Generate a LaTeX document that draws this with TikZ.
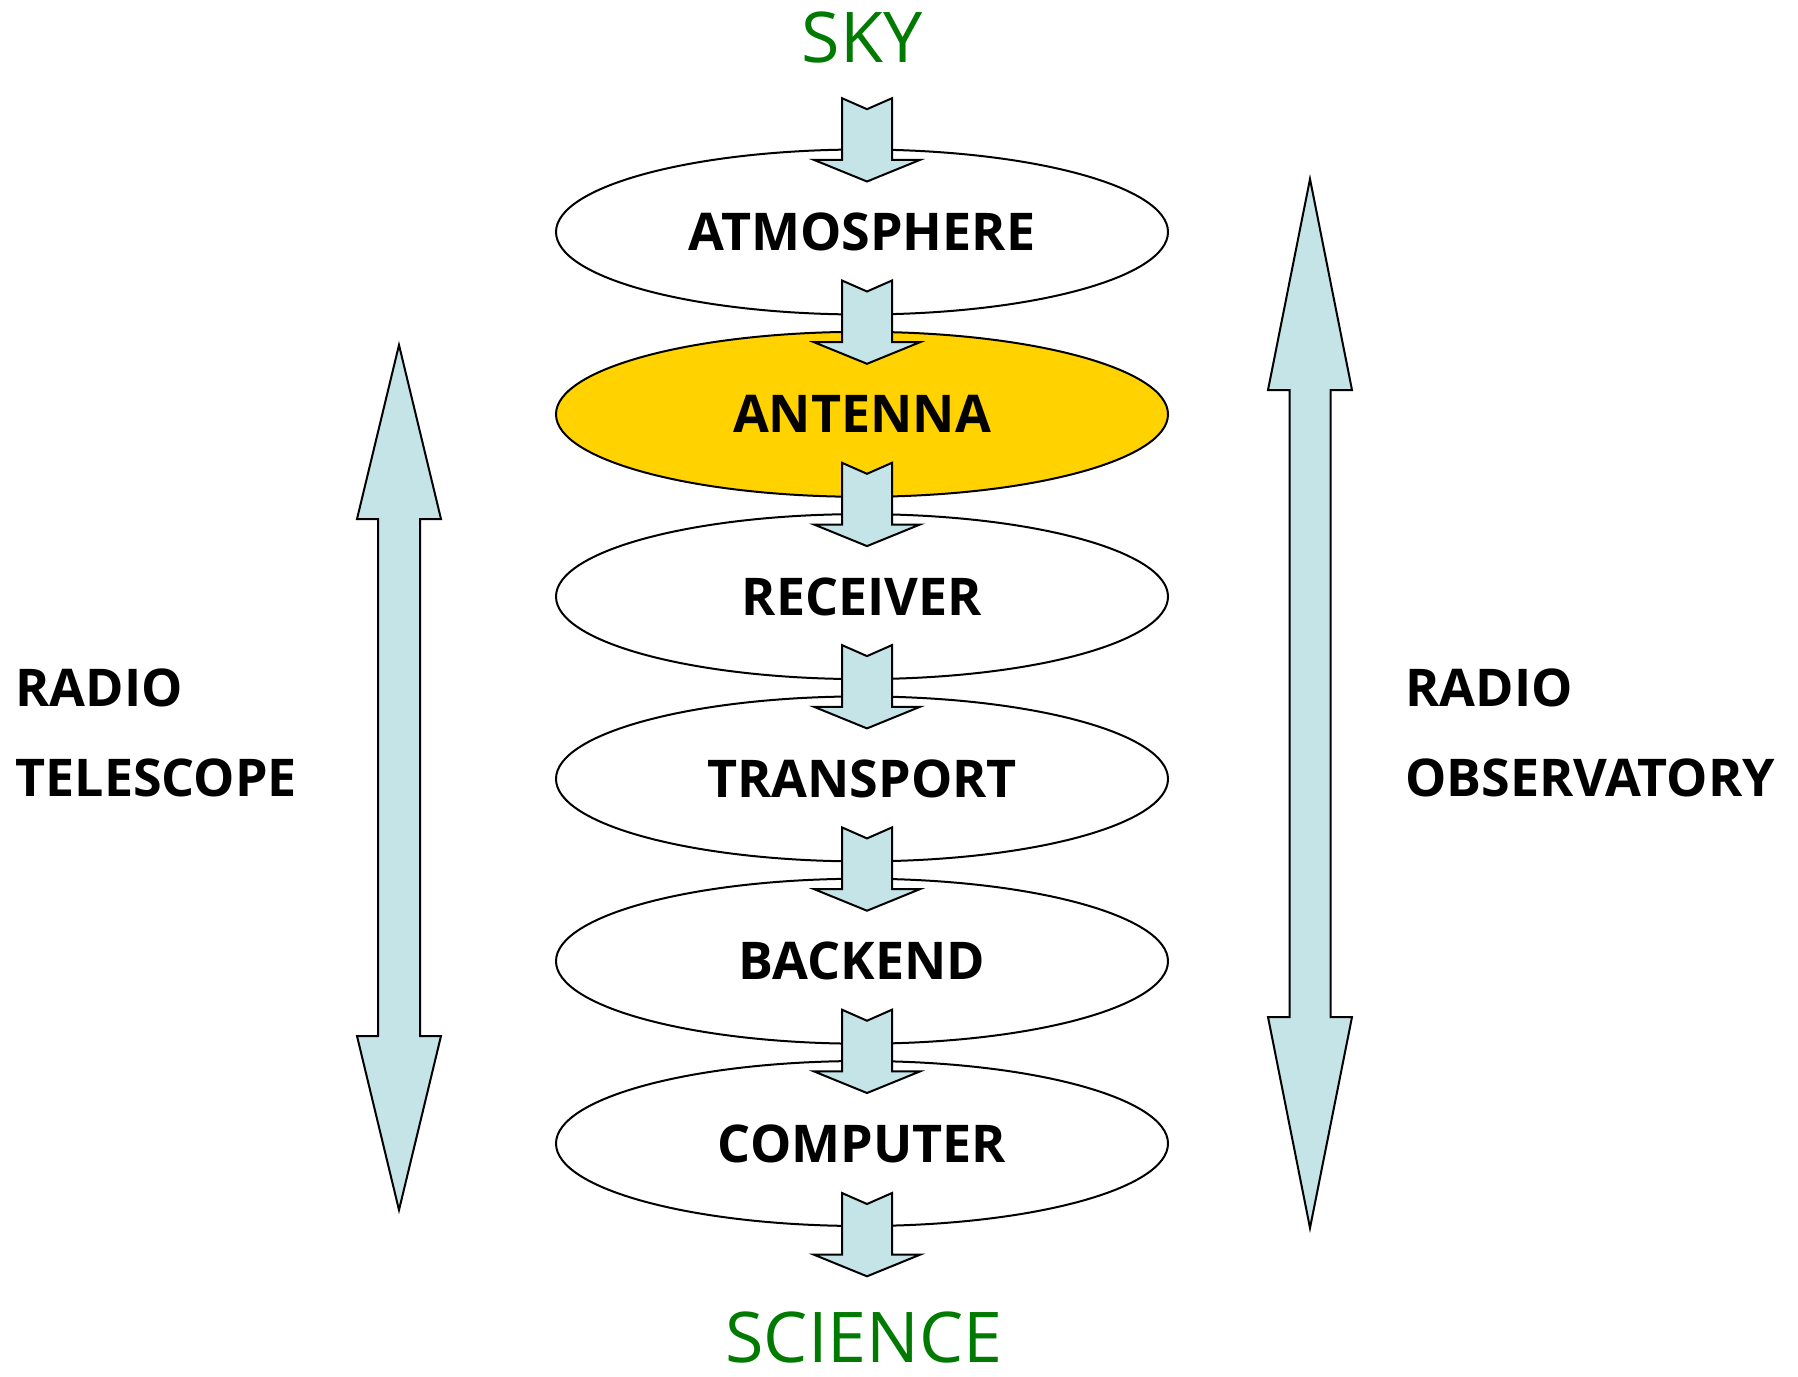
\documentclass[tikz,border=0pt]{standalone}
\usepackage{fontspec}
\setmainfont{Open Sans}
\usetikzlibrary{shapes.geometric}
\definecolor{flowcyan}{RGB}{196,228,232}
\definecolor{antgold}{RGB}{255,210,0}
\definecolor{endgreen}{RGB}{0,122,0}
\newcommand{\pFlowArrow}[1]{\draw[flow] ([shift={(5,33)}]#1) -- ++(53,-21.6) -- ++(-28,0) -- ++(0,-61.7) -- ++(-25,11) -- ++(-25,-11) -- ++(0,61.7) -- ++(-28,0) -- cycle;}
\newcommand{\pUpDown}[5]{\draw[flow] (#1,#2) -- (#1+42,#2+#4) -- (#1+#5,#2+#4) -- (#1+#5,#3-#4) -- (#1+42,#3-#4) -- (#1,#3) -- (#1-42,#3-#4) -- (#1-#5,#3-#4) -- (#1-#5,#2+#4) -- (#1-42,#2+#4) -- cycle;}

\begin{document}
\begin{tikzpicture}[x=0.5pt,y=-0.5pt,
  flow/.style={draw, fill=flowcyan, line width=1pt, line join=miter},
  stage/.style={ellipse, draw, fill=white, line width=1pt, minimum width=306pt, minimum height=82.5pt, inner sep=0pt, font={\bfseries\fontsize{26}{30}\selectfont}},
  side/.style={anchor=base west, inner sep=0pt, font={\bfseries\fontsize{26}{30}\selectfont}},
  ends/.style={anchor=base, inner sep=0pt, text=endgreen, font={\fontsize{35}{40}\selectfont}}]
\useasboundingbox (0,0) rectangle (1798,1376);
\pUpDown{399}{345}{1210}{174}{21}
\pUpDown{1310}{179}{1228}{211}{20.5}
\node[stage] (atm) at (862,232) {ATMOSPHERE};
\node[stage, fill=antgold] (ant) at (862,414.3) {ANTENNA};
\node[stage] (rec) at (862,596.6) {RECEIVER};
\node[stage] (trn) at (862,778.9) {TRANSPORT};
\node[stage] (bck) at (862,961.2) {BACKEND};
\node[stage] (cmp) at (862,1143.5) {COMPUTER};
\coordinate (out) at (862,1243.3);
\pFlowArrow{atm.north}
\pFlowArrow{ant.north}
\pFlowArrow{rec.north}
\pFlowArrow{trn.north}
\pFlowArrow{bck.north}
\pFlowArrow{cmp.north}
\pFlowArrow{out}
\node[ends] (sky) at (862,62) {SKY};
\node[ends] (sci) at (864,1362) {SCIENCE};
\node[side] (tel1) at (15,706) {RADIO};
\node[side] (tel2) at (15,796) {TELESCOPE};
\node[side] (obs1) at (1405,706) {RADIO};
\node[side] (obs2) at (1405,796) {OBSERVATORY};
\end{tikzpicture}
\end{document}
